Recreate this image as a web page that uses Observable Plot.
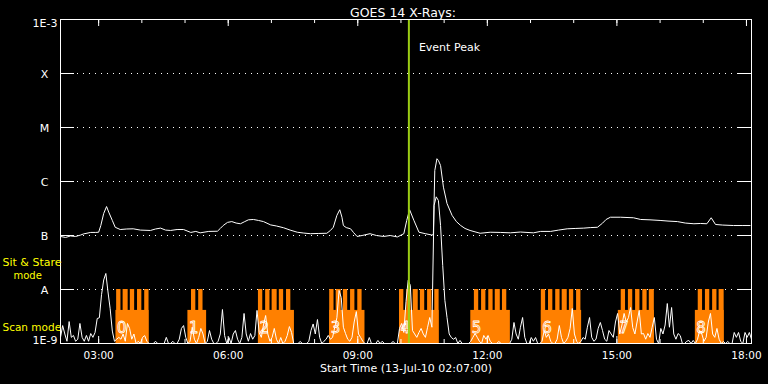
<!DOCTYPE html>
<html><head><meta charset="utf-8">
<script src="https://cdn.jsdelivr.net/npm/d3@7"></script>
<script src="https://cdn.jsdelivr.net/npm/@observablehq/plot@0.6"></script>
<style>html,body{margin:0;padding:0;background:#000;overflow:hidden}#chart{width:768px;height:384px}</style>
</head><body><div id="chart"></div>
<script>
// ---------- data ----------
const day = "2010-07-13";
const startTime = "02:07";
const endTime = "18:07";
const titleText = "GOES 14 X-Rays:";
const xTitle = "Start Time (13-Jul-10 02:07:00)";
const eventPeak = "10:11";
const eventLabel = "Event Peak";

const levels = [1e-3, 1e-4, 1e-5, 1e-6, 1e-7, 1e-8, 1e-9];
const levelLabels = ["1E-3", "X", "M", "C", "B", "A", "1E-9"];

const majorTicks = ["03:00", "06:00", "09:00", "12:00", "15:00", "18:00"];
const hourTicks = ["03:00","04:00","05:00","06:00","07:00","08:00","09:00","10:00","11:00","12:00","13:00","14:00","15:00","16:00","17:00","18:00"];

// long channel (1-8 A), flux in units of 1e-9 W/m^2
const longTimes = ["02:07","02:14","02:21","02:28","02:35","02:39","02:49","02:56","03:00","03:03","03:07","03:11","03:14","03:19","03:23","03:30","03:39","03:48","03:58","04:12","04:19","04:26","04:33","04:40","04:49","04:58","05:08","05:15","05:21","05:33","05:45","05:49","05:53","05:59","06:05","06:11","06:17","06:23","06:28","06:35","06:42","06:49","06:59","07:07","07:17","07:26","07:36","07:45","07:54","08:05","08:17","08:22","08:26","08:31","08:35","08:38","08:40","08:44","08:50","08:54","08:59","09:06","09:17","09:26","09:36","09:45","09:55","10:04","10:08","10:12","10:18","10:25","10:34","10:43","10:45","10:47","10:50","10:52","10:55","10:59","11:04","11:11","11:17","11:23","11:29","11:36","11:50","12:04","12:18","12:32","12:46","13:04","13:14","13:28","13:39","13:51","14:02","14:14","14:23","14:33","14:40","14:45","14:51","15:05","15:23","15:33","15:46","16:00","16:11","16:24","16:35","16:47","16:56","17:05","17:11","17:17","17:27","17:42","17:54","18:05"];
const longFlux_nW = [96,92,98,96,102,107,114,114,115,153,256,344,271,190,142,129,132,133,126,124,132,137,126,124,129,129,114,119,112,119,120,135,153,175,181,170,165,181,195,198,190,181,157,150,139,126,115,111,108,109,110,124,142,236,300,218,153,140,133,114,96,100,108,100,96,100,94,108,190,300,190,115,108,102,104,1600,2640,2450,1980,785,391,236,181,153,135,124,110,115,114,112,116,112,119,119,126,133,135,137,140,142,169,198,218,218,213,198,195,190,185,181,170,165,167,165,213,160,156,153,153,153];

// short channel (0.5-4 A), 3-minute cadence from 02:07, units of 1e-9 W/m^2
const shortCadenceMin = 3;
const shortFlux_nW = [
1.3,2.15,1.5,1.1,2.55,1.3,1.41,1.1,1.2,2.35,
1.3,1.1,1.41,1.1,1.53,1.3,1.6,2.9,3.0,8,
15,19.8,9,4.4,1.7,1.1,1.2,1.3,1.2,1.5,
1.1,2.35,1.9,1.2,1.5,1,1.1,1,1.3,1.4,
1.1,1,1,1,1.1,1,1,1,1,1.3,
1,1,1.1,1,1,1.2,1.9,2.15,1.3,1,
1.1,2.0,1.2,1,1.3,1.9,1.5,1,1.1,1.74,
1.2,1,1,1.1,1.5,4.26,1.4,1,1.29,1,
1.5,1.74,1.2,1,1.3,3.6,1.5,1.1,1.53,1.2,
1.4,4.1,1.6,1.3,2.2,3.3,1.5,1.1,1.3,1.9,
1.2,1,1.29,1,1.1,1.4,2.06,1.6,1,1,
1,1.09,1,1,1,1.1,1.74,2.3,1.5,2.78,
1.3,1,1.1,1.2,1.41,1.2,1.3,2.0,3.0,9.6,
7.1,2.0,1.53,1.2,1.1,1.3,2.5,3.9,1.5,1.29,
1.1,1,1,1.29,1,1,1,1.14,1,1.1,
1,1,1,1,1.09,1,1,1.9,2.35,1.6,
6,14.7,12,1.74,1.5,1.3,1.6,1.9,1.5,1.3,
2.0,3.03,2.0,360,520,445,153,28,6.3,3.03,
1.5,1.29,1.2,1.29,1,1.14,1,1,1,1,
1.1,1.3,1.53,1.3,1.1,1,1.41,1.2,1.41,1.1,
1,1,1,1.09,1,1,1,1,1,1.2,
2.45,1.5,1.2,2.0,3.03,1.3,1,1,1.29,1.1,
1.29,1,1,1.1,1.74,1.3,1.5,1.1,1,1,
1.2,2.15,1.3,1,1.1,1.3,1.9,4.45,1.5,1.1,
1,1.1,1.29,1.2,2.0,3.03,1.3,1.1,1.2,1.9,
2.45,1.74,1.2,1.1,1.74,1.5,1.3,2.5,3.6,1.5,
2.2,3.6,2.5,3.0,4.64,1.98,1.5,2.5,4.1,1.5,
1.53,1.2,1.53,1.3,2.0,3.03,1.2,1,1.9,1.5,
2.2,5.5,2.0,4.64,1.5,1.2,1.53,1.4,1,1,
1.1,1.14,1,1.14,1,1.2,1.74,1.5,1.1,1.3,
2.5,3.6,1.5,1.3,1.9,1.2,1,1.09,1,1.09,
1,1,1.6,1.3,1.6,1.1,1,1.6,1.3,1.6,1.2];

// observing blocks: scan-mode spans and sit-&-stare teeth
const blockLabels = ["0","1","2","3","4","5","6","7","8"];
const scanStart = ["03:24","05:04","06:42","08:21","09:58","11:37","13:15","15:02","16:49"];
const scanEnd   = ["04:10","05:30","07:32","09:10","10:53","12:32","14:11","15:52","17:29"];
const stareStart = ["03:25","03:34","03:44","03:54","04:04",
  "05:09","05:19",
  "06:42","06:52","07:01","07:11","07:21",
  "08:21","08:30","08:40","08:50","09:00",
  "09:58","10:08","10:17","10:27","10:37","10:47",
  "11:42","11:52","12:02","12:11","12:21",
  "13:15","13:25","13:35","13:44","13:54","14:04",
  "15:06","15:16","15:26","15:36","15:45",
  "16:53","17:03","17:13","17:22"];
const stareEnd = ["03:31","03:41","03:50","04:00","04:10",
  "05:15","05:25",
  "06:48","06:58","07:08","07:17","07:27",
  "08:27","08:37","08:46","08:56","09:06",
  "10:04","10:14","10:24","10:33","10:43","10:53",
  "11:48","11:58","12:08","12:18","12:27",
  "13:21","13:31","13:41","13:51","14:00","14:10",
  "15:12","15:22","15:32","15:42","15:52",
  "16:59","17:09","17:19","17:29"];
const scanLevel = 4.1e-9;
const stareLevel = 1e-8;
const nano = 1e-9;

const sideLabels = ["Sit & Stare", "mode", "Scan mode"];

// ---------- build ----------
const T = s => new Date(`${day}T${s}:00Z`);
const t0 = T(startTime), t1 = T(endTime);
const longData = longTimes.map((t, i) => ({t: T(t), v: longFlux_nW[i] * nano}));
const shortData = shortFlux_nW.map((v, i) => ({t: new Date(t0.getTime() + i * shortCadenceMin * 60000), v: v * nano}));
const scans = scanStart.map((s, i) => ({a: T(s), b: T(scanEnd[i]), label: blockLabels[i]}));
const stares = stareStart.map((s, i) => ({a: T(s), b: T(stareEnd[i])}));
const lv = levels.map((v, i) => ({v, label: levelLabels[i]}));
const inner = lv.slice(1, -1);

const W = 768, H = 384, mL = 60, mR = 17, mT = 19, mB = 41;
const plotW = W - mL - mR, plotH = H - mT - mB;
const ORANGE = "#ff8000", GREEN = "#9bcd14", YELLOW = "#ffff00";

const chart = Plot.plot({
  width: W, height: H,
  marginLeft: mL, marginRight: mR, marginTop: mT, marginBottom: mB,
  style: {background: "black", color: "white", fontFamily: "DejaVu Sans", fontSize: "11px"},
  x: {type: "utc", domain: [t0, t1]},
  y: {type: "log", domain: [1e-9, 1e-3], axis: null},
  marks: [
    Plot.tickY(inner, {y: "v", stroke: "white", strokeDasharray: "1,5", insetLeft: 17, insetRight: 17}),
    Plot.rectY(scans, {x1: "a", x2: "b", y1: () => 1e-9, y2: () => scanLevel, fill: ORANGE}),
    Plot.rectY(stares, {x1: "a", x2: "b", y1: () => 1e-9, y2: () => stareLevel, fill: ORANGE}),
    Plot.text(scans, {x: "a", text: "label", frameAnchor: "bottom", dy: -11, dx: 1, textAnchor: "start", fontSize: 15, fill: "none", stroke: "white", strokeWidth: 0.8}),
    Plot.line(shortData, {x: "t", y: "v", stroke: "white", strokeWidth: 1, clip: true}),
    Plot.line(longData, {x: "t", y: "v", stroke: "white", strokeWidth: 1, clip: true}),
    Plot.ruleX([eventPeak], {x: d => T(d), stroke: GREEN, strokeWidth: 2}),
    Plot.text([eventPeak], {x: d => T(d), text: () => eventLabel, frameAnchor: "top", dy: 24, dx: 10, textAnchor: "start", fill: "white"}),
    Plot.frame({stroke: "white"}),
    // y ticks (inward) left and right
    Plot.tickY(lv, {y: "v", stroke: "white", insetRight: plotW - 14}),
    Plot.tickY(lv, {y: "v", stroke: "white", insetLeft: plotW - 14}),
    // x ticks (inward) top and bottom
    Plot.tickX(hourTicks, {x: d => T(d), stroke: "white", insetBottom: plotH - 4}),
    Plot.tickX(majorTicks, {x: d => T(d), stroke: "white", insetBottom: plotH - 7}),
    Plot.tickX(hourTicks, {x: d => T(d), stroke: "white", insetTop: plotH - 4}),
    Plot.tickX(majorTicks, {x: d => T(d), stroke: "white", insetTop: plotH - 7}),
    Plot.axisX({ticks: majorTicks.map(T), tickSize: 0, tickPadding: 8, tickFormat: d3.utcFormat("%H:%M"), label: null, fontSize: 10.5}),
    // y labels
    Plot.text(inner, {y: "v", text: "label", frameAnchor: "left", dx: -16, dy: 1, textAnchor: "middle", fill: "white"}),
    Plot.text(lv.slice(0, 1), {y: "v", text: "label", frameAnchor: "left", dx: -3, dy: 4, textAnchor: "end", fill: "white"}),
    Plot.text(lv.slice(-1), {y: "v", text: "label", frameAnchor: "left", dx: -3, dy: -3, textAnchor: "end", fill: "white"}),
    // titles
    Plot.text([titleText], {text: d => d, frameAnchor: "top", dy: -11, dx: -3, fontSize: 12.5, fill: "white"}),
    Plot.text([xTitle], {text: d => d, frameAnchor: "bottom", dy: 28, fontSize: 11, fill: "white"}),
    // mode labels
    Plot.text([sideLabels[0]], {text: d => d, frameAnchor: "top-left", dx: -58, dy: 239, textAnchor: "start", fontSize: 11, fill: YELLOW}),
    Plot.text([sideLabels[1]], {text: d => d, frameAnchor: "top-left", dx: -47, dy: 252, textAnchor: "start", fontSize: 10, fill: YELLOW}),
    Plot.text([sideLabels[2]], {text: d => d, frameAnchor: "top-left", dx: -58, dy: 304, textAnchor: "start", fontSize: 10.5, fill: YELLOW})
  ]
});
document.getElementById("chart").appendChild(chart);
</script></body></html>
